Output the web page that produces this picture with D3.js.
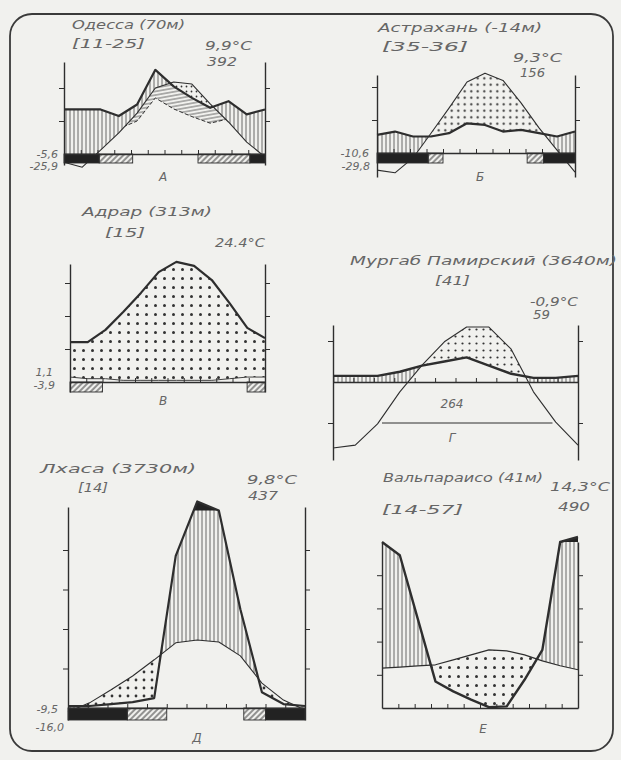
<!DOCTYPE html>
<html>
<head>
<meta charset="utf-8">
<script src="https://cdn.jsdelivr.net/npm/d3@7"></script>
<style>
  html, body { margin: 0; padding: 0; background: #f1f1ee; }
  svg { display: block; }
  .lbl { font-family: "DejaVu Sans", sans-serif; font-style: italic; fill: #666; }
</style>
</head>
<body>
<svg id="chart" width="621" height="760"></svg>
<script>
// Monthly values (temperature in °C, precipitation in mm)
const months = d3.range(12);

const odessaTemp = [-2.5, -4, 1.2, 6.4, 12.4, 20, 21.8, 21.2, 15.2, 9.7, 3.6, -0.9];
const odessaPrec = [27, 27, 27, 23, 30, 51, 41, 34, 28, 32, 24, 27];
const odessaFrost = [[0, 2.1, 'black'], [2.1, 4.1, 'hatch'], [8.0, 11.1, 'hatch'], [11.1, 12, 'black']];

const astrakhanTemp = [-5.2, -6, -1.5, 6, 13.6, 21.5, 24.2, 22, 15.2, 7.6, 0.9, -5.8];
const astrakhanPrec = [11, 13, 10, 10, 12, 18, 17, 13, 14, 12, 10, 13];
const astrakhanFrost = [[0, 3.1, 'black'], [3.1, 4.0, 'hatch'], [9.1, 10.1, 'hatch'], [10.1, 12, 'black']];

const adrarTemp = [12.1, 12.1, 15.8, 21.2, 27, 33.3, 36.4, 35.2, 30.9, 23.9, 16.4, 13.3];
const adrarPrec = [3, 2, 2, 1, 1, 1, 1, 1, 1, 2, 3, 3];
const adrarFrost = [[0, 2.0, 'hatch'], [10.9, 12, 'hatch']];

const murghabTemp = [-16.1, -15.4, -10.2, -2.4, 4.1, 9.8, 13.4, 13.4, 8, -2.4, -9.8, -15.4];
const murghabPrec = [3, 3, 3, 5, 8, 10, 12, 8, 4, 2, 2, 3];
const murghabFrost = [];
const murghabMinLine = [2.4, 10.75, -10];

const lhasaTemp = [-1, 1.3, 4.6, 8.1, 12.2, 16.5, 17.2, 16.7, 13.2, 6.3, 2, -0.5];
const lhasaPrec = [1, 1, 2, 3, 5, 77, 146, 100, 50, 8, 2, 1];
const lhasaFrost = [[0, 3.0, 'black'], [3.0, 5.0, 'hatch'], [8.9, 10.0, 'hatch'], [10.0, 12, 'black']];

// southern hemisphere: July ... June
const valparaisoTemp = [12, 12.3, 12.7, 13, 14.5, 16, 17.5, 17.2, 16, 14.2, 12.7, 11.5];
const valparaisoPrec = [100, 92, 54, 16, 10, 5, 0.5, 1, 17, 35, 100, 130];
const valparaisoFrost = [];

// Walter scale: 10 °C = 20 mm, above 100 mm reduced 1:10
const pu = mm => mm <= 100 ? mm / 2 : 50 + (mm - 100) / 20;

const panels = [
  { id: 'od', temp: odessaTemp, prec: odessaPrec, frost: odessaFrost, left: 64, right: 265, top: 62, y0: 154, bottom: 165, k: 3.3, ticks: [10, 20], strip: 9, dry: true, tW: 1.1, pW: 2.2, dot: 5, r: 0.9 },
  { id: 'as', temp: astrakhanTemp, prec: astrakhanPrec, frost: astrakhanFrost, left: 377, right: 575, top: 75, y0: 153, bottom: 177, k: 3.3, ticks: [10, 20], strip: 10, tW: 1.1, pW: 2.2, dot: 6.5, r: 1.1 },
  { id: 'ad', temp: adrarTemp, prec: adrarPrec, frost: adrarFrost, left: 70, right: 265, top: 264, y0: 382, bottom: 392, k: 3.3, ticks: [10, 20, 30], strip: 10, tW: 2.2, pW: 0.9, dot: 9, r: 1.5 },
  { id: 'mu', temp: murghabTemp, prec: murghabPrec, frost: murghabFrost, left: 333, right: 578, top: 325, y0: 382, bottom: 460, k: 4.1, ticks: [-10, 10], strip: 0, tW: 1.1, pW: 2.4, dot: 7, r: 1.1, minLine: murghabMinLine },
  { id: 'lh', temp: lhasaTemp, prec: lhasaPrec, frost: lhasaFrost, left: 68, right: 305, top: 507, y0: 708, bottom: 720, k: 3.95, ticks: [10, 20, 30, 40], strip: 12, tW: 1.1, pW: 2.2, dot: 8, r: 1.4, cap: true },
  { id: 'va', temp: valparaisoTemp, prec: valparaisoPrec, frost: valparaisoFrost, left: 382, right: 578, top: 542, y0: 708, bottom: 708, k: 3.32, ticks: [10, 20, 30, 40], strip: 0, tW: 1.1, pW: 2.4, dot: 9, r: 1.5, cap: true }
];

// text, x, y, width (textLength), anchor, size
const labels = [
  ['Одесса (70м)', 72, 29, 113, 'start', 13], ['[11-25]', 72, 48, 73, 'start', 13],
  ['9,9°C', 205, 50, 47, 'start', 12], ['392', 207, 66, 30, 'start', 12],
  ['-5,6', 58, 158, 0, 'end', 11], ['-25,9', 58, 170, 0, 'end', 11], ['А', 163, 181, 0, 'middle', 12],

  ['Астрахань (-14м)', 378, 32, 164, 'start', 13], ['[35-36]', 382, 51, 86, 'start', 13],
  ['9,3°C', 513, 62, 49, 'start', 12], ['156', 520, 77, 25, 'start', 12],
  ['-10,6', 369, 157, 0, 'end', 11], ['-29,8', 370, 170, 0, 'end', 11], ['Б', 480, 181, 0, 'middle', 12],

  ['Адрар (313м)', 82, 216, 130, 'start', 13], ['[15]', 105, 237, 40, 'start', 13],
  ['24.4°C', 215, 247, 50, 'start', 12],
  ['1,1', 53, 376, 0, 'end', 11], ['-3,9', 55, 389, 0, 'end', 11], ['В', 163, 405, 0, 'middle', 12],

  ['Мургаб Памирский (3640м)', 350, 265, 267, 'start', 13], ['[41]', 435, 285, 35, 'start', 13],
  ['-0,9°C', 530, 306, 48, 'start', 12], ['59', 533, 319, 17, 'start', 12],
  ['264', 452, 408, 0, 'middle', 12], ['Г', 452, 442, 0, 'middle', 12],

  ['Лхаса (3730м)', 40, 473, 156, 'start', 13], ['[14]', 78, 492, 30, 'start', 13],
  ['9,8°C', 247, 484, 50, 'start', 12], ['437', 248, 500, 30, 'start', 12],
  ['-9,5', 58, 713, 0, 'end', 11], ['-16,0', 64, 731, 0, 'end', 11], ['Д', 197, 742, 0, 'middle', 12],

  ['Вальпараисо (41м)', 383, 482, 160, 'start', 13], ['[14-57]', 382, 514, 81, 'start', 13],
  ['14,3°C', 550, 491, 60, 'start', 12], ['490', 558, 511, 32, 'start', 12],
  ['Е', 483, 733, 0, 'middle', 12]
];

const INK = '#2e2e2e';
const svg = d3.select('#chart');
const defs = svg.append('defs');

// patterns
const vh = defs.append('pattern').attr('id', 'vhatch').attr('patternUnits', 'userSpaceOnUse')
  .attr('width', 4).attr('height', 6);
vh.append('line').attr('x1', 2).attr('x2', 2).attr('y1', 0).attr('y2', 6)
  .attr('stroke', '#444').attr('stroke-width', 0.8);

const dg = defs.append('pattern').attr('id', 'diag').attr('patternUnits', 'userSpaceOnUse')
  .attr('width', 4).attr('height', 4).attr('patternTransform', 'rotate(45)');
dg.append('line').attr('x1', 1).attr('x2', 1).attr('y1', 0).attr('y2', 4)
  .attr('stroke', '#333').attr('stroke-width', 1);

const hh = defs.append('pattern').attr('id', 'hhatch').attr('patternUnits', 'userSpaceOnUse')
  .attr('width', 8).attr('height', 3.6).attr('patternTransform', 'rotate(-10)');
hh.append('line').attr('x1', 0).attr('x2', 8).attr('y1', 1.8).attr('y2', 1.8)
  .attr('stroke', '#444').attr('stroke-width', 0.8);

// outer frame
svg.append('rect')
  .attr('x', 10).attr('y', 14).attr('width', 603).attr('height', 737).attr('rx', 22)
  .attr('fill', 'none').attr('stroke', '#3a3a3a').attr('stroke-width', 1.8);

function drawPanel(p) {
  const g = svg.append('g');
  const xp = d3.scaleLinear().domain([0, 11]).range([p.left, p.right]);
  const xm = d3.scaleLinear().domain([0, 12]).range([p.left, p.right]);
  const y = d3.scaleLinear()
    .domain([(p.y0 - p.bottom) / p.k, (p.y0 - p.top) / p.k])
    .range([p.bottom, p.top]);
  const yT = i => y(p.temp[i]);
  const yP = i => y(pu(p.prec[i]));
  const hi = p.top - 80, lo = p.bottom + 80;

  const dots = defs.append('pattern').attr('id', p.id + 'dots').attr('patternUnits', 'userSpaceOnUse')
    .attr('width', p.dot).attr('height', p.dot).attr('x', p.left).attr('y', p.y0);
  dots.append('circle').attr('cx', p.dot / 2).attr('cy', p.dot / 2).attr('r', p.r).attr('fill', '#333');

  const clip = (name, path) => {
    defs.append('clipPath').attr('id', p.id + name).append('path').attr('d', path);
    return `url(#${p.id + name})`;
  };
  const aboveT = clip('aT', d3.area().x(xp).y0(hi).y1(yT)(months));
  const aboveP = clip('aP', d3.area().x(xp).y0(hi).y1(yP)(months));
  const belowT = clip('bT', d3.area().x(xp).y0(lo).y1(yT)(months));
  const belowP = clip('bP', d3.area().x(xp).y0(lo).y1(yP)(months));

  // humid season: precipitation above temperature
  g.append('path')
    .attr('d', d3.area().x(xp).y0(y(0)).y1(yP)(months))
    .attr('fill', 'url(#vhatch)').attr('clip-path', aboveT);

  // arid season: temperature above precipitation
  g.append('path')
    .attr('d', d3.area().x(xp).y0(y(0)).y1(yT)(months))
    .attr('fill', `url(#${p.id}dots)`).attr('clip-path', aboveP);

  // relatively dry season (precipitation at 1:3)
  if (p.dry) {
    const yD = i => y(p.prec[i] / 3);
    const dg2 = g.append('g').attr('clip-path', belowT);
    dg2.append('path')
      .attr('d', d3.area().x(xp).y0(yD).y1(hi)(months))
      .attr('fill', 'url(#hhatch)').attr('clip-path', belowP);
    dg2.append('path')
      .attr('d', d3.line().x(xp).y(yD)(months))
      .attr('fill', 'none').attr('stroke', INK).attr('stroke-width', 1)
      .attr('stroke-dasharray', '4,2').attr('clip-path', belowP);
  }

  // precipitation above 100 mm: region below the curve and above the 100 mm line
  if (p.cap) {
    const y100 = y(50);
    defs.append('clipPath').attr('id', p.id + 'cap').append('rect')
      .attr('x', p.left - 10).attr('y', hi)
      .attr('width', p.right - p.left + 20).attr('height', y100 - hi);
    g.append('path')
      .attr('d', d3.area().x(xp).y0(lo).y1(yP)(months))
      .attr('fill', '#222').attr('clip-path', `url(#${p.id}cap)`);
  }

  // curves
  g.append('path')
    .attr('d', d3.line().x(xp).y(yT)(months))
    .attr('fill', 'none').attr('stroke', INK).attr('stroke-width', p.tW).attr('stroke-linejoin', 'round');
  g.append('path')
    .attr('d', d3.line().x(xp).y(yP)(months))
    .attr('fill', 'none').attr('stroke', INK).attr('stroke-width', p.pW).attr('stroke-linejoin', 'round');

  if (p.minLine) {
    g.append('line')
      .attr('x1', xm(p.minLine[0])).attr('x2', xm(p.minLine[1]))
      .attr('y1', y(p.minLine[2])).attr('y2', y(p.minLine[2]))
      .attr('stroke', INK).attr('stroke-width', 1);
  }

  // frost months
  p.frost.forEach(([from, to, kind]) => {
    g.append('rect')
      .attr('x', xm(from)).attr('y', y(0))
      .attr('width', xm(to) - xm(from)).attr('height', p.strip)
      .attr('fill', kind === 'black' ? '#222' : 'url(#diag)')
      .attr('stroke', INK).attr('stroke-width', 0.9);
  });

  // axes
  const styleAxis = a => {
    a.selectAll('.domain').attr('stroke', INK).attr('stroke-width', 1.4);
    a.selectAll('.tick line').attr('stroke', INK).attr('stroke-width', 1);
    a.selectAll('text').remove();
  };
  g.append('g').attr('transform', `translate(${p.left},0)`)
    .call(d3.axisLeft(y).tickValues(p.ticks).tickSize(5).tickSizeOuter(0).tickFormat(''))
    .call(styleAxis);
  g.append('g').attr('transform', `translate(${p.right},0)`)
    .call(d3.axisRight(y).tickValues(p.ticks).tickSize(5).tickSizeOuter(0).tickFormat(''))
    .call(styleAxis);
  g.append('g').attr('transform', `translate(0,${y(0)})`)
    .call(d3.axisTop(xm).tickValues(d3.range(1, 12)).tickSize(4).tickSizeOuter(0).tickFormat(''))
    .call(styleAxis);
}

panels.forEach(drawPanel);

// lettering
labels.forEach(([text, x, yy, w, anchor, size]) => {
  const t = svg.append('text').attr('class', 'lbl')
    .attr('x', x).attr('y', yy)
    .attr('text-anchor', anchor)
    .attr('font-size', size)
    .text(text);
  if (w) t.attr('textLength', w).attr('lengthAdjust', 'spacingAndGlyphs');
});
</script>
</body>
</html>
